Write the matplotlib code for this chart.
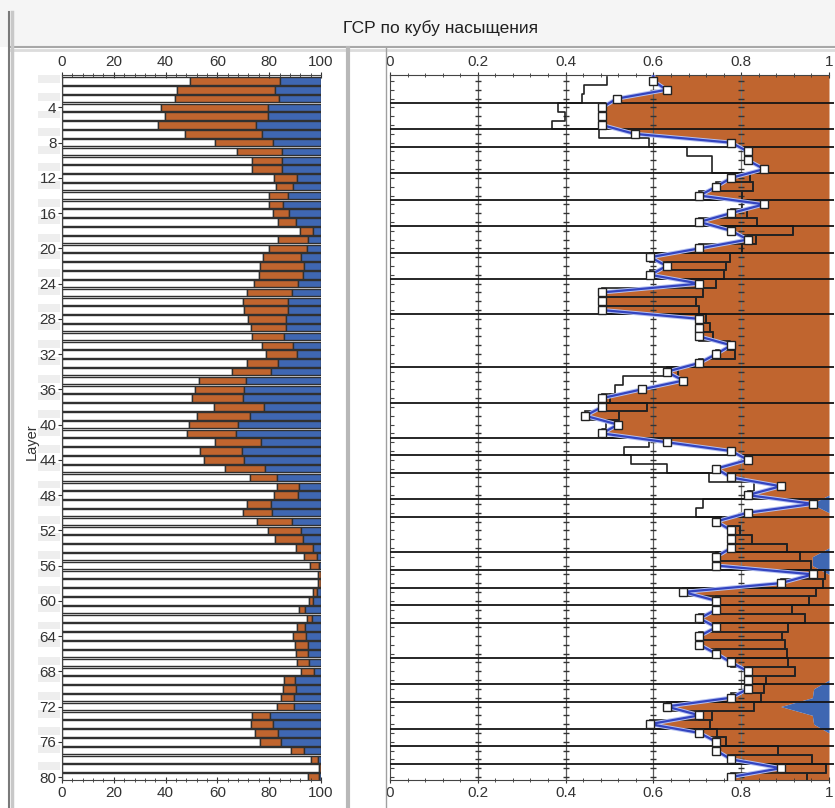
import numpy as np
import matplotlib.pyplot as plt
from matplotlib.patches import Rectangle
from matplotlib.lines import Line2D
from matplotlib.transforms import blended_transform_factory

# layer numbers
layers = np.arange(1, 81)

# left panel: cumulative % ends for white (water) and orange (oil); blue fills the rest to 100
white_pct = [49.5, 44.3, 43.7, 38.2, 39.8, 36.9, 47.6, 58.9, 67.7, 73.3,
             73.3, 81.9, 82.6, 80.1, 80.1, 81.4, 83.5, 91.9, 83.3, 80.1,
             77.5, 76.5, 76.1, 74.2, 71.3, 69.8, 70.4, 72.0, 73.0, 73.5,
             77.4, 78.7, 71.3, 65.6, 53.0, 51.2, 50.1, 58.5, 52.1, 49.2,
             48.2, 58.9, 53.3, 55.0, 63.0, 72.6, 82.9, 81.9, 71.3, 69.8,
             75.4, 79.7, 82.4, 90.4, 93.4, 95.8, 99.0, 98.7, 97.0, 95.5,
             91.6, 94.5, 90.6, 89.3, 90.0, 90.4, 90.6, 92.2, 85.7, 85.2,
             84.4, 82.9, 73.3, 72.9, 74.6, 76.5, 88.4, 96.2, 99.4, 95.1]
oil_end_pct = [84.2, 82.3, 83.9, 79.7, 79.7, 74.9, 77.1, 81.6, 84.8, 85.1,
               84.8, 90.6, 89.3, 87.4, 85.2, 87.8, 90.4, 97.0, 95.1, 94.5,
               92.3, 93.4, 92.9, 91.0, 88.9, 87.4, 87.4, 86.5, 86.5, 85.9,
               89.3, 90.6, 83.5, 80.6, 71.1, 70.3, 69.8, 77.8, 72.4, 68.1,
               67.2, 76.9, 69.4, 70.3, 78.4, 82.9, 91.6, 91.0, 80.6, 81.0,
               88.9, 92.2, 92.9, 97.0, 98.3, 99.4, 99.9, 99.9, 98.3, 97.0,
               93.8, 96.4, 93.8, 94.2, 95.1, 95.1, 95.5, 97.4, 90.0, 90.4,
               89.6, 89.6, 80.3, 81.4, 83.3, 84.6, 93.4, 98.7, 99.9, 99.4]

# right panel: saturation curve (markers) and gas boundary (blue fill to 1)
sat = [0.600, 0.630, 0.517, 0.483, 0.483, 0.483, 0.557, 0.777, 0.815, 0.815,
       0.852, 0.777, 0.743, 0.705, 0.852, 0.777, 0.705, 0.777, 0.815, 0.705,
       0.593, 0.630, 0.593, 0.705, 0.483, 0.483, 0.483, 0.705, 0.705, 0.705,
       0.777, 0.743, 0.705, 0.630, 0.668, 0.574, 0.483, 0.483, 0.445, 0.519,
       0.483, 0.630, 0.777, 0.815, 0.743, 0.777, 0.890, 0.815, 0.963, 0.815,
       0.743, 0.777, 0.777, 0.777, 0.743, 0.743, 0.963, 0.890, 0.668, 0.743,
       0.743, 0.705, 0.743, 0.705, 0.705, 0.743, 0.777, 0.815, 0.815, 0.815,
       0.777, 0.630, 0.705, 0.592, 0.705, 0.743, 0.743, 0.777, 0.890, 0.777]
gas = [1.0, 1.0, 1.0, 1.0, 1.0, 1.0, 1.0, 1.0, 1.0, 1.0,
       1.0, 1.0, 1.0, 1.0, 1.0, 1.0, 1.0, 1.0, 1.0, 1.0,
       1.0, 1.0, 1.0, 1.0, 1.0, 1.0, 1.0, 1.0, 1.0, 1.0,
       1.0, 1.0, 1.0, 1.0, 1.0, 1.0, 1.0, 1.0, 1.0, 1.0,
       1.0, 1.0, 1.0, 1.0, 1.0, 1.0, 1.0, 1.0, 0.96, 1.0,
       1.0, 1.0, 1.0, 1.0, 0.962, 0.962, 1.0, 1.0, 1.0, 1.0,
       1.0, 1.0, 1.0, 1.0, 1.0, 1.0, 1.0, 1.0, 1.0, 0.965,
       0.962, 0.89, 0.962, 0.965, 1.0, 1.0, 1.0, 1.0, 1.0, 1.0]
# zone boundaries drawn across the right panel
zones = [3.5, 6.5, 8.5, 11.5, 14.5, 17.5, 20.5, 23.5, 27.5, 33.5, 37.5, 41.5,
         43.5, 45.5, 48.5, 50.5, 54.5, 56.5, 58.5, 60.5, 62.5, 66.5, 69.5,
         71.5, 74.5, 76.5, 78.5]

title = "ГСР по кубу насыщения"

ORANGE = '#c0652f'
BLUE = '#3f67b2'
EDGE = '#303030'
FONT = ['Liberation Sans Narrow', 'Liberation Sans', 'DejaVu Sans']
plt.rcParams['font.family'] = FONT

W, H = 835, 808
fig = plt.figure(figsize=(W / 100, H / 100), dpi=100)
fig.patch.set_facecolor('white')

def fx(px):
    return px / W

def fy(py):
    return 1 - py / H

# window chrome
fig.add_artist(Rectangle((0, fy(47)), 1, 47 / H, transform=fig.transFigure,
                         facecolor='#f5f5f5', edgecolor='none', zorder=0))
fig.add_artist(Line2D([fx(10), 1], [fy(47), fy(47)], transform=fig.transFigure, color='#a8a8a8', lw=1.5))
fig.add_artist(Line2D([fx(10), 1], [fy(50), fy(50)], transform=fig.transFigure, color='#dcdcdc', lw=2))
fig.add_artist(Line2D([fx(9), fx(9)], [fy(12), 0], transform=fig.transFigure, color='#7a7a7a', lw=1.5))
fig.add_artist(Line2D([fx(12), fx(12)], [fy(12), 0], transform=fig.transFigure, color='#c8c8c8', lw=2.5))
fig.add_artist(Line2D([fx(348), fx(348)], [fy(48), 0], transform=fig.transFigure, color='#b8b8b8', lw=3))
fig.add_artist(Line2D([fx(386), fx(386)], [fy(48), 0], transform=fig.transFigure, color='#a0a0a0', lw=1))
fig.text(fx(441), fy(28), title, ha='center', va='center', fontsize=12.5, color='#202020')

ax_h = (780 - 75) / H
ax1 = fig.add_axes([fx(62), fy(780), (321 - 62) / W, ax_h])
ax2 = fig.add_axes([fx(390), fy(780), (829 - 390) / W, ax_h])
ylim = (80.34, 0.32)

# ---- left panel: stacked fractions per layer
white = np.array(white_pct)
oil_end = np.array(oil_end_pct)
ax1.barh(layers, white, height=0.85, color='white', edgecolor=EDGE, lw=1)
ax1.barh(layers, oil_end - white, left=white, height=0.85, color=ORANGE, edgecolor=EDGE, lw=1)
ax1.barh(layers, 100 - oil_end, left=oil_end, height=0.85, color=BLUE, edgecolor=EDGE, lw=1)
ax1.set_xlim(0, 100)
ax1.set_ylim(*ylim)
ax1.set_xticks(np.arange(0, 101, 20))
ax1.set_xticks(np.arange(0, 101, 4), minor=True)
ax1.set_yticks(np.arange(4, 81, 4))
ax1.xaxis.set_ticks_position('both')
ax1.tick_params(axis='x', which='both', direction='inout', labeltop=True, labelbottom=True,
                colors='#333333', labelsize=11, pad=2)
ax1.tick_params(axis='x', which='major', length=5)
ax1.tick_params(axis='x', which='minor', length=3)
ax1.tick_params(axis='y', length=3, pad=1, colors='#333333', labelsize=11)
ax1.spines['right'].set_visible(False)
for sp in ['left', 'top', 'bottom']:
    ax1.spines[sp].set_color('#444444')
ax1.set_ylabel('Layer', family=['Liberation Sans', 'DejaVu Sans'], fontsize=10.5, color='#333333')
ax1.yaxis.set_label_coords(-0.088, 0.48)
# alternating stripes behind layer labels
tr = blended_transform_factory(ax1.transAxes, ax1.transData)
for k in range(0, 80, 2):
    ax1.add_patch(Rectangle((-0.093, k + 0.35), 0.085, 0.9, transform=tr, clip_on=False,
                            facecolor='#eeeeee', edgecolor='none', zorder=0))

# ---- right panel: saturation log
s = np.array(sat)
g = np.array(gas)
w = white / 100
yy = np.concatenate([[ylim[1]], layers, [ylim[0]]])
sc = np.concatenate([[s[0]], s, [s[-1]]])
gc = np.concatenate([[g[0]], g, [g[-1]]])
ax2.fill_betweenx(yy, sc, gc, color=ORANGE, lw=0, zorder=1)
ax2.fill_betweenx(yy, gc, 1.0, color=BLUE, lw=0, zorder=1)
for gx in [0.2, 0.4, 0.6, 0.8]:
    ax2.axvline(gx, color='#5a5a5a' if gx < 0.7 else '#7a7a7a', lw=0.9, zorder=2)
    ax2.plot(np.full(len(layers), gx), layers, ls='', marker='_', ms=4, color='#333333', zorder=2)

# step outline of water fraction
xs = np.repeat(w, 2)
ys = np.ravel(np.column_stack([layers - 0.5, layers + 0.5]))
ax2.plot(xs, ys, color='#222222', lw=1.2, zorder=3)
mask = w > s
ax2.barh(layers[mask], (w - s)[mask], left=s[mask], height=1.0, fill=False,
         edgecolor='#222222', lw=1.2, zorder=3)
ax2.hlines(zones, 0, 1.012, color='#151515', lw=1.3, zorder=3, clip_on=False)

ax2.plot(sc, yy, color='#b4c0f2', lw=3.0, zorder=4)
ax2.plot(sc, yy, color='#3344c0', lw=1.6, zorder=4)
ax2.plot(s, layers, ls='', marker='s', ms=6, mfc='white', mec='#222222', mew=1, zorder=5)

ax2.set_xlim(0, 1)
ax2.set_ylim(*ylim)
ax2.set_xticks([0, 0.2, 0.4, 0.6, 0.8, 1])
ax2.set_xticklabels(['0', '0.2', '0.4', '0.6', '0.8', '1'])
ax2.set_xticks(np.arange(0, 1.001, 0.04), minor=True)
ax2.set_yticks(layers)
ax2.set_yticklabels([])
ax2.xaxis.set_ticks_position('both')
ax2.tick_params(axis='x', which='both', direction='inout', labeltop=True, labelbottom=True,
                colors='#333333', labelsize=11, pad=2)
ax2.tick_params(axis='x', which='major', length=5)
ax2.tick_params(axis='x', which='minor', length=3)
ax2.tick_params(axis='y', direction='in', length=3, colors='#444444')
ax2.spines['right'].set_visible(False)
for sp in ['left', 'top', 'bottom']:
    ax2.spines[sp].set_color('#444444')

fig.savefig('out.png', dpi=100)
